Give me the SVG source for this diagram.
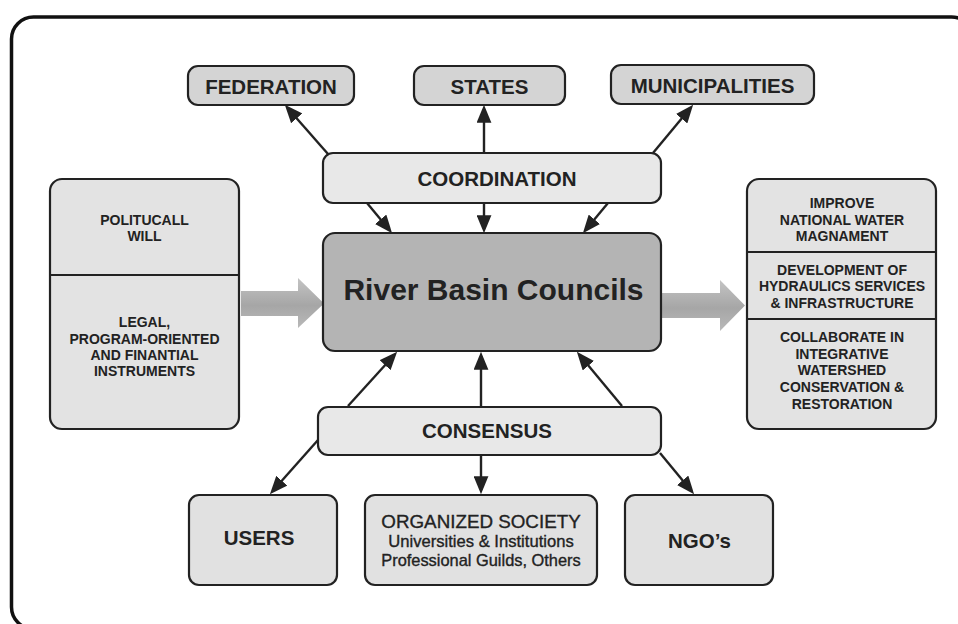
<svg xmlns="http://www.w3.org/2000/svg" width="958" height="624" viewBox="0 0 958 624">
<style>
.box{stroke:#222;stroke-width:2.2}
.top{fill:#d4d4d4}
.mid{fill:#e8e8e8}
.side{fill:#e3e3e3}
.bot{fill:#e1e1e1}
.core{fill:#b4b4b4}
.t{font-family:"Liberation Sans",Arial,sans-serif;fill:#222;text-anchor:middle}
.b{font-weight:bold}
.m{stroke:#222;stroke-width:0.35}
.conn line{stroke:#222;stroke-width:2.4;marker-end:url(#ah)}
.div{stroke:#222;stroke-width:2}
</style>
<defs>
<marker id="ah" markerUnits="userSpaceOnUse" markerWidth="18" markerHeight="15" viewBox="0 0 17 14" refX="13" refY="7" orient="auto">
<path d="M0,0 L17,7 L0,14 z" fill="#222"/>
</marker>
<linearGradient id="g" x1="0" y1="0" x2="0" y2="1">
<stop offset="0" stop-color="#c4c4c4"/>
<stop offset="0.55" stop-color="#a6a6a6"/>
<stop offset="1" stop-color="#b9b9b9"/>
</linearGradient>
</defs>
<rect width="958" height="624" fill="#fff"/>
<rect x="11.5" y="17" width="962" height="612" rx="22" fill="none" stroke="#111" stroke-width="3.5"/>

<g id="arrow-in">
<path d="M241,291 L298,291 L298,278 L324,303.5 L298,328 L298,316 L241,316 z" fill="url(#g)"/>
</g>
<g id="arrow-out">
<path d="M662,293 L720,293 L720,280 L745,305.5 L720,331 L720,318 L662,318 z" fill="url(#g)"/>
</g>

<g class="conn" id="connectors">
<line x1="328" y1="154" x2="287.6" y2="108"/>
<line x1="484" y1="153" x2="484" y2="109"/>
<line x1="653" y1="153" x2="690.4" y2="108.1"/>
<line x1="367" y1="203" x2="389.4" y2="229.9"/>
<line x1="484" y1="203" x2="484" y2="229"/>
<line x1="608" y1="203" x2="585.6" y2="229.9"/>
<line x1="348" y1="406" x2="394.3" y2="355"/>
<line x1="481" y1="406" x2="481" y2="356"/>
<line x1="622" y1="406" x2="579.6" y2="355.1"/>
<line x1="318" y1="440" x2="272.7" y2="491"/>
<line x1="481" y1="455" x2="481" y2="490"/>
<line x1="660" y1="453" x2="691.4" y2="490.9"/>
</g>

<g id="federation">
<rect class="box top" x="188" y="66" width="166" height="39" rx="10"/>
<text class="t b" x="271" y="93.5" font-size="20.5">FEDERATION</text>
</g>
<g id="states">
<rect class="box top" x="414" y="66" width="151" height="39" rx="10"/>
<text class="t b" x="489.5" y="93.5" font-size="20.5">STATES</text>
</g>
<g id="municipalities">
<rect class="box top" x="611" y="65" width="203" height="39" rx="10"/>
<text class="t b" x="712.5" y="93" font-size="20.5">MUNICIPALITIES</text>
</g>
<g id="coordination">
<rect class="box mid" x="323" y="153" width="338" height="50" rx="10"/>
<text class="t b" x="497" y="186" font-size="20.5">COORDINATION</text>
</g>
<g id="river-basin-councils">
<rect class="box core" x="323" y="233" width="338" height="118" rx="12"/>
<text class="t b" x="493.5" y="300" font-size="30">River Basin Councils</text>
</g>
<g id="inputs">
<rect class="box side" x="50" y="179" width="189" height="250" rx="12"/>
<line class="div" x1="50" y1="275" x2="239" y2="275"/>
<text class="t b" font-size="14"><tspan x="144.5" y="225">POLITUCALL</tspan><tspan x="144.5" y="241">WILL</tspan></text>
<text class="t b" font-size="14"><tspan x="144.5" y="327">LEGAL,</tspan><tspan x="144.5" y="343.5">PROGRAM-ORIENTED</tspan><tspan x="144.5" y="359.5">AND FINANTIAL</tspan><tspan x="144.5" y="376">INSTRUMENTS</tspan></text>
</g>
<g id="outcomes">
<rect class="box side" x="747" y="179" width="189" height="250" rx="12"/>
<line class="div" x1="747" y1="252" x2="936" y2="252"/>
<line class="div" x1="747" y1="319" x2="936" y2="319"/>
<text class="t b" font-size="14"><tspan x="842" y="208">IMPROVE</tspan><tspan x="842" y="224.5">NATIONAL WATER</tspan><tspan x="842" y="241">MAGNAMENT</tspan></text>
<text class="t b" font-size="14"><tspan x="842" y="274.5">DEVELOPMENT OF</tspan><tspan x="842" y="291">HYDRAULICS SERVICES</tspan><tspan x="842" y="308">&amp; INFRASTRUCTURE</tspan></text>
<text class="t b" font-size="14"><tspan x="842" y="342">COLLABORATE IN</tspan><tspan x="842" y="358.5">INTEGRATIVE</tspan><tspan x="842" y="375">WATERSHED</tspan><tspan x="842" y="392">CONSERVATION &amp;</tspan><tspan x="842" y="408.5">RESTORATION</tspan></text>
</g>
<g id="consensus">
<rect class="box mid" x="318" y="407" width="343" height="48" rx="10"/>
<text class="t b" x="487" y="437.5" font-size="20.5">CONSENSUS</text>
</g>
<g id="users">
<rect class="box bot" x="189" y="495" width="148" height="90" rx="10"/>
<text class="t b" x="259" y="545" font-size="20.5">USERS</text>
</g>
<g id="organized-society">
<rect class="box bot" x="365" y="495" width="232" height="90" rx="10"/>
<text class="t m" x="481" y="528" font-size="18.8">ORGANIZED SOCIETY</text>
<text class="t m" x="481" y="547" font-size="16.6" stroke-width="0.5">Universities &amp; Institutions</text>
<text class="t m" x="481" y="566" font-size="16.4" stroke-width="0.5">Professional Guilds, Others</text>
</g>
<g id="ngos">
<rect class="box bot" x="625" y="495" width="148" height="90" rx="10"/>
<text class="t b" x="699.5" y="548" font-size="20.5">NGO’s</text>
</g>
</svg>
